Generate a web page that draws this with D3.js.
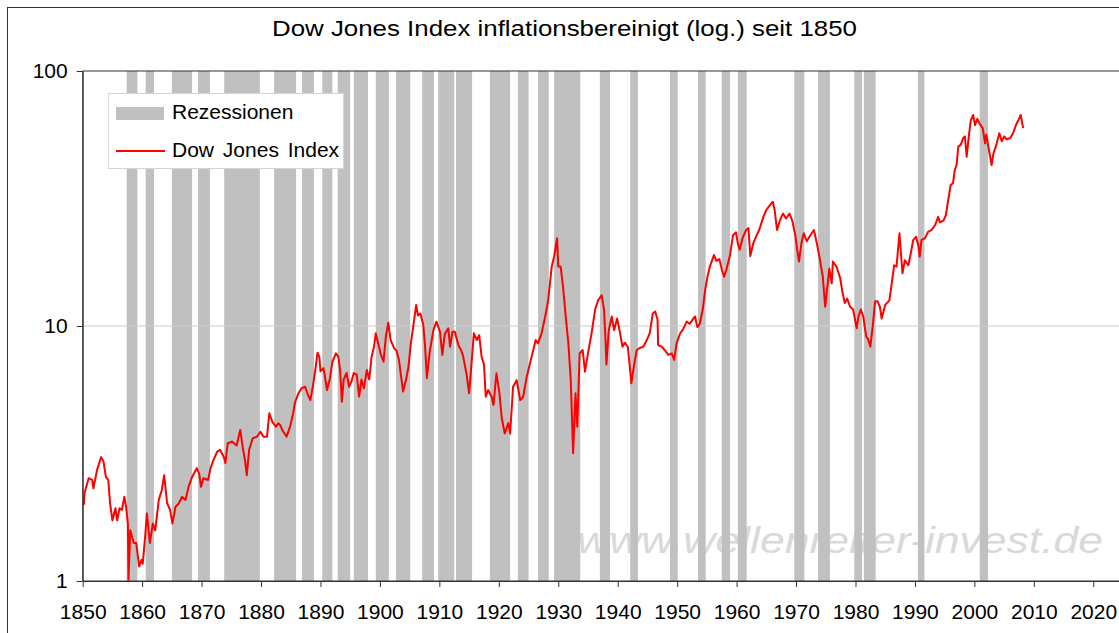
<!DOCTYPE html>
<html>
<head>
<meta charset="utf-8">
<script src="https://cdn.jsdelivr.net/npm/d3@7"></script>
<style>
  body { margin: 0; background: #fff; }
  text { font-family: "Liberation Sans", Arial, sans-serif; }
</style>
</head>
<body>
<div id="chart"></div>
<script>
// Recession periods (start / end as decimal years)
const recessionStart = [1857.4, 1860.6, 1865.0, 1869.4, 1873.8, 1882.2, 1886.9, 1890.3, 1892.9, 1895.6,
  1899.3, 1902.7, 1907.1, 1909.8, 1912.8, 1918.5, 1923.2, 1926.6, 1929.3, 1937.0, 1942.1, 1948.8,
  1953.5, 1957.5, 1960.2, 1969.7, 1973.7, 1979.8, 1981.4, 1990.5, 2000.9];
const recessionEnd = [1859.2, 1862.0, 1868.4, 1871.4, 1879.8, 1885.9, 1888.9, 1892.0, 1895.0, 1898.0,
  1901.5, 1905.1, 1909.1, 1912.5, 1915.5, 1921.9, 1925.0, 1928.4, 1933.7, 1938.7, 1943.4, 1950.1,
  1954.8, 1958.9, 1961.7, 1971.4, 1975.7, 1981.1, 1983.4, 1991.6, 2002.3];

// Dow Jones Index, inflation adjusted
const dowYears = [1850.2, 1850.3, 1851.0, 1851.6, 1851.8, 1852.4, 1853.1, 1853.5, 1853.9, 1854.3,
  1854.6, 1855.0, 1855.5, 1855.8, 1856.2, 1856.6, 1857.0, 1857.3, 1857.6, 1857.7,
  1858.0, 1858.6, 1859.0, 1859.5, 1859.9, 1860.1, 1860.5, 1860.8, 1861.3, 1861.8,
  1862.2, 1862.8, 1863.3, 1863.7, 1864.2, 1864.7, 1865.1, 1865.6, 1866.2, 1866.7,
  1867.3, 1867.8, 1868.4, 1869.2, 1869.6, 1869.9, 1870.3, 1871.1, 1871.5, 1872.0,
  1872.6, 1873.1, 1873.7, 1874.0, 1874.4, 1875.1, 1875.9, 1876.5, 1876.9, 1877.3,
  1877.6, 1878.0, 1878.6, 1879.3, 1879.9, 1880.4, 1881.0, 1881.4, 1881.9, 1882.5,
  1882.9, 1883.2, 1883.6, 1884.3, 1884.9, 1885.4, 1885.7, 1886.3, 1886.8, 1887.4,
  1887.9, 1888.3, 1888.8, 1889.2, 1889.5, 1889.8, 1890.0, 1890.5, 1890.7, 1891.1,
  1891.6, 1892.0, 1892.6, 1893.0, 1893.3, 1893.6, 1893.9, 1894.4, 1894.8, 1895.2,
  1895.6, 1896.1, 1896.5, 1896.9, 1897.3, 1897.8, 1898.2, 1898.6, 1899.0, 1899.3,
  1899.7, 1900.1, 1900.6, 1901.0, 1901.4, 1901.8, 1902.4, 1902.8, 1903.2, 1903.6,
  1903.9, 1904.4, 1904.8, 1905.2, 1905.6, 1906.1, 1906.4, 1906.8, 1907.3, 1907.6,
  1907.9, 1908.4, 1909.0, 1909.5, 1910.1, 1910.5, 1910.9, 1911.5, 1911.8, 1912.2,
  1912.6, 1913.2, 1913.7, 1914.0, 1914.6, 1915.0, 1915.4, 1915.8, 1916.3, 1916.7,
  1917.1, 1917.5, 1917.8, 1918.2, 1918.8, 1919.1, 1919.6, 1920.1, 1920.5, 1921.0,
  1921.6, 1921.9, 1922.4, 1923.0, 1923.6, 1924.1, 1924.7, 1925.2, 1925.8, 1926.2,
  1926.6, 1927.2, 1927.8, 1928.3, 1928.9, 1929.3, 1929.8, 1930.0, 1930.4, 1930.8,
  1931.3, 1931.7, 1932.1, 1932.5, 1932.9, 1933.2, 1933.6, 1934.1, 1934.5, 1935.0,
  1935.6, 1936.2, 1936.7, 1937.3, 1937.7, 1938.0, 1938.1, 1938.5, 1939.0, 1939.4,
  1939.9, 1940.4, 1940.8, 1941.2, 1941.7, 1942.0, 1942.3, 1942.7, 1943.2, 1943.7,
  1944.3, 1944.9, 1945.4, 1945.9, 1946.3, 1946.7, 1946.8, 1947.4, 1947.9, 1948.5,
  1949.1, 1949.5, 1949.9, 1950.5, 1951.0, 1951.6, 1952.1, 1953.0, 1953.4, 1953.8,
  1954.3, 1954.7, 1955.1, 1955.5, 1956.2, 1956.6, 1957.1, 1957.5, 1957.9, 1958.3,
  1958.9, 1959.4, 1959.9, 1960.2, 1960.5, 1961.0, 1961.6, 1962.0, 1962.3, 1962.8,
  1963.3, 1963.8, 1964.5, 1965.0, 1965.6, 1966.1, 1966.4, 1966.8, 1967.3, 1967.8,
  1968.3, 1968.9, 1969.4, 1969.9, 1970.2, 1970.5, 1970.9, 1971.3, 1971.8, 1972.3,
  1973.0, 1973.5, 1974.0, 1974.5, 1974.9, 1975.2, 1975.6, 1976.0, 1976.2, 1976.8,
  1977.4, 1977.8, 1978.2, 1978.6, 1979.1, 1979.6, 1980.2, 1980.5, 1980.9, 1981.3,
  1981.8, 1982.1, 1982.5, 1982.9, 1983.3, 1983.7, 1984.1, 1984.4, 1985.0, 1985.7,
  1986.1, 1986.5, 1986.9, 1987.4, 1987.6, 1987.9, 1988.3, 1988.9, 1989.3, 1989.7,
  1990.2, 1990.6, 1990.8, 1991.1, 1991.7, 1992.2, 1992.8, 1993.4, 1993.9, 1994.2,
  1994.8, 1995.2, 1995.6, 1996.0, 1996.4, 1996.7, 1997.0, 1997.3, 1997.7, 1998.1,
  1998.4, 1998.7, 1999.1, 1999.4, 1999.8, 2000.1, 2000.5, 2000.9, 2001.4, 2001.8,
  2002.0, 2002.4, 2002.9, 2003.2, 2003.6, 2004.2, 2004.6, 2005.0, 2005.4, 2006.0,
  2006.5, 2007.0, 2007.5, 2007.8, 2008.2];
const dowValues = [1.99, 2.21, 2.53, 2.49, 2.31, 2.72, 3.06, 2.94, 2.56, 2.49,
  2.02, 1.73, 1.93, 1.73, 1.93, 1.90, 2.14, 1.95, 1.68, 1.01,
  1.58, 1.41, 1.41, 1.14, 1.21, 1.17, 1.49, 1.84, 1.41, 1.68,
  1.58, 2.08, 2.27, 2.60, 2.02, 1.90, 1.68, 1.95, 2.02, 2.14,
  2.08, 2.34, 2.56, 2.77, 2.63, 2.34, 2.53, 2.49, 2.77, 2.98,
  3.21, 3.27, 3.08, 2.90, 3.47, 3.52, 3.40, 3.91, 3.37, 2.98,
  2.60, 3.27, 3.63, 3.68, 3.85, 3.68, 3.68, 4.55, 4.21, 4.03,
  4.15, 4.10, 3.90, 3.68, 4.04, 4.54, 5.00, 5.45, 5.70, 5.78,
  5.37, 5.12, 5.96, 6.92, 7.86, 7.58, 6.64, 6.84, 6.44, 5.61,
  6.24, 7.24, 7.81, 7.58, 6.72, 5.05, 6.17, 6.54, 5.78, 6.05,
  6.54, 6.44, 5.28, 6.17, 5.70, 6.72, 6.17, 7.58, 8.29, 9.36,
  8.55, 7.81, 7.24, 9.08, 10.3, 8.81, 8.17, 8.00, 7.35, 6.24,
  5.53, 6.17, 6.92, 8.55, 9.94, 12.1, 11.0, 11.2, 10.1, 8.29,
  6.24, 8.00, 9.64, 10.4, 9.50, 7.70, 9.28, 9.80, 8.29, 9.50,
  9.50, 8.40, 8.00, 7.60, 6.42, 5.45, 7.07, 9.36, 8.81, 9.20,
  7.58, 7.07, 5.28, 5.61, 5.28, 4.90, 6.52, 5.45, 4.35, 3.79,
  4.16, 3.79, 5.78, 6.13, 5.12, 5.28, 6.33, 7.07, 8.05, 8.81,
  8.55, 9.36, 10.9, 12.6, 17.1, 18.7, 22.1, 17.1, 17.1, 14.3,
  10.6, 8.55, 6.13, 3.17, 5.45, 4.03, 7.81, 8.05, 6.62, 7.81,
  9.36, 11.6, 12.6, 13.2, 11.6, 8.29, 7.07, 9.64, 10.9, 9.64,
  10.7, 9.36, 8.29, 8.60, 8.29, 7.07, 5.96, 6.90, 8.05, 8.20,
  8.29, 8.81, 9.40, 11.2, 11.4, 10.6, 8.42, 8.30, 8.05, 7.70,
  7.80, 7.36, 8.55, 9.36, 9.70, 10.4, 10.2, 10.9, 9.90, 10.2,
  11.6, 13.8, 15.6, 17.1, 19.0, 18.0, 18.3, 16.7, 15.6, 16.7,
  19.0, 22.7, 23.3, 21.1, 19.9, 22.1, 23.8, 24.2, 18.8, 21.1,
  22.5, 23.8, 26.8, 28.5, 29.8, 30.7, 28.5, 23.8, 26.0, 27.6,
  26.4, 27.6, 25.7, 22.5, 19.9, 17.9, 21.1, 23.1, 21.5, 22.5,
  23.8, 21.1, 18.3, 15.6, 11.9, 13.8, 16.8, 14.7, 17.9, 17.1,
  15.5, 13.6, 12.3, 12.8, 11.9, 11.6, 9.79, 10.9, 11.6, 10.9,
  9.08, 8.90, 8.29, 10.0, 12.5, 12.5, 11.9, 10.7, 12.1, 12.6,
  14.7, 17.3, 17.1, 23.1, 19.9, 16.1, 18.1, 17.3, 19.3, 21.7,
  22.4, 20.5, 18.7, 21.7, 22.1, 23.4, 23.8, 24.9, 26.8, 25.5,
  25.9, 27.2, 31.2, 35.7, 36.3, 40.9, 42.8, 50.5, 51.3, 54.5,
  55.4, 46.1, 56.4, 64.2, 67.2, 61.3, 64.9, 62.0, 59.7, 52.0,
  56.4, 49.8, 42.8, 47.4, 50.5, 57.0, 53.0, 55.4, 54.0, 54.5,
  57.0, 61.4, 64.9, 67.2, 59.7];

const xTicks = d3.range(1850, 2021, 10);
const yTicks = [1, 10, 100];

const W = 1119, H = 633;
const plot = {left: 82.7, top: 71, bottom: 581, right: 1123};

const svg = d3.select("#chart")
  .append("svg")
    .attr("width", W)
    .attr("height", H);

const x = d3.scaleLinear()
    .domain([1850, 2025])
    .range([plot.left, plot.right]);

const y = d3.scaleLog()
    .domain([1, 100])
    .range([plot.bottom, plot.top]);

// outer chart frame
svg.append("rect")
    .attr("x", 7.5).attr("y", 7.5)
    .attr("width", 1300).attr("height", 800)
    .attr("fill", "none")
    .attr("stroke", "#333");

// title (glyphs are horizontally stretched in the original)
svg.append("text")
    .attr("x", 272)
    .attr("y", 36)
    .attr("textLength", 585)
    .attr("lengthAdjust", "spacingAndGlyphs")
    .style("font-size", "22px")
    .text("Dow Jones Index inflationsbereinigt (log.) seit 1850");

// watermark
svg.append("text")
    .attr("x", 577)
    .attr("y", 553)
    .attr("textLength", 526)
    .attr("lengthAdjust", "spacingAndGlyphs")
    .style("font-size", "36px")
    .style("font-style", "italic")
    .attr("fill", "#d9d9d9")
    .text("www.wellenreiter-invest.de");

// recession bars
const recessions = recessionStart.map((s, i) => ({start: s, end: recessionEnd[i]}));
svg.append("g")
  .selectAll("rect")
  .data(recessions)
  .join("rect")
    .attr("x", d => x(d.start))
    .attr("y", plot.top)
    .attr("width", d => x(d.end) - x(d.start))
    .attr("height", plot.bottom - plot.top)
    .attr("fill", "#c0c0c0");

// gridline at 10
svg.append("line")
    .attr("x1", plot.left).attr("x2", plot.right)
    .attr("y1", y(10)).attr("y2", y(10))
    .attr("stroke", "#cccccc");

// plot area border
svg.append("rect")
    .attr("x", plot.left).attr("y", plot.top)
    .attr("width", plot.right - plot.left)
    .attr("height", plot.bottom - plot.top)
    .attr("fill", "none")
    .attr("stroke", "#333");

// Dow line
const dow = dowYears.map((yr, i) => ({year: yr, value: dowValues[i]}));
svg.append("path")
    .datum(dow)
    .attr("fill", "none")
    .attr("stroke", "#ff0000")
    .attr("stroke-width", 2)
    .attr("stroke-linejoin", "round")
    .attr("d", d3.line()
      .x(d => x(d.year))
      .y(d => y(d.value)));

// axes
const xAxis = svg.append("g")
    .attr("transform", `translate(0,${plot.bottom})`)
    .call(d3.axisBottom(x).tickValues(xTicks).tickFormat(d3.format("d")).tickSize(6).tickSizeOuter(0));
const yAxis = svg.append("g")
    .attr("transform", `translate(${plot.left},0)`)
    .call(d3.axisLeft(y).tickValues(yTicks).tickFormat(d3.format("d")).tickSize(6).tickSizeOuter(0));

[xAxis, yAxis].forEach(a => {
  a.select(".domain").attr("stroke", "#333");
  a.selectAll(".tick line").attr("stroke", "#333");
  a.selectAll(".tick text")
    .attr("fill", "#000")
    .style("font-size", "21px")
    .style("font-family", "'Liberation Sans', Arial, sans-serif");
});
xAxis.selectAll(".tick text").attr("dy", "1.38em");
yAxis.selectAll(".tick text").attr("x", -15);

// legend
const legend = svg.append("g");
legend.append("rect")
    .attr("x", 108.5).attr("y", 93.5)
    .attr("width", 235).attr("height", 75)
    .attr("fill", "#fff")
    .attr("stroke", "#d4d4d4");
legend.append("rect")
    .attr("x", 116).attr("y", 107)
    .attr("width", 48).attr("height", 13)
    .attr("fill", "#c0c0c0");
legend.append("text")
    .attr("x", 172).attr("y", 119)
    .style("font-size", "21px")
    .text("Rezessionen");
legend.append("line")
    .attr("x1", 116).attr("x2", 165)
    .attr("y1", 151).attr("y2", 151)
    .attr("stroke", "#ff0000")
    .attr("stroke-width", 2);
legend.append("text")
    .attr("x", 172).attr("y", 157)
    .style("font-size", "21px")
    .style("word-spacing", "3px")
    .text("Dow Jones Index");
</script>
</body>
</html>
